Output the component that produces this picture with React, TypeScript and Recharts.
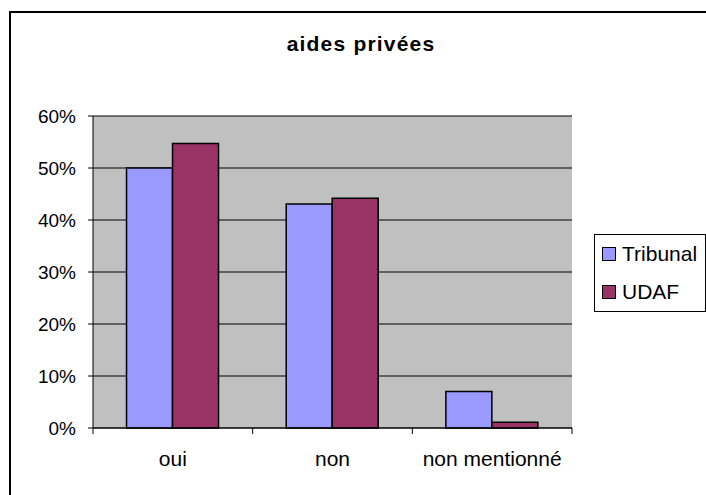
import React from "react";
import { BarChart, Bar, XAxis, YAxis, CartesianGrid, Legend } from "recharts";

const categories = ["oui", "non", "non mentionné"];
const tribunalValues = [0.5, 0.431, 0.07];
const udafValues = [0.547, 0.442, 0.011];
const yTicks = [0, 0.1, 0.2, 0.3, 0.4, 0.5, 0.6];
const seriesNames = ["Tribunal", "UDAF"];
const seriesColors = ["#9999FF", "#993366"];

const FONT = '"Liberation Sans", Arial, Helvetica, sans-serif';
const X_TICK_SIZE = 6;
const X_TICK_MARGIN = 17;

const rows = categories.map((name, i) => ({
  name,
  tribunal: tribunalValues[i],
  udaf: udafValues[i],
}));

function pct(v: number): string {
  return `${Math.round(v * 100)}%`;
}

// Excel puts the category tick marks between the groups, not under them
function CategoryTick(props: any) {
  const { x, y, payload, index, visibleTicksCount } = props;
  const half = payload?.offset ?? 0;
  const axisY = y - X_TICK_SIZE - X_TICK_MARGIN;
  const last = index === visibleTicksCount - 1;
  return (
    <g>
      <line x1={x - half} x2={x - half} y1={axisY} y2={axisY + X_TICK_SIZE} stroke="#000" />
      {last && <line x1={x + half} x2={x + half} y1={axisY} y2={axisY + X_TICK_SIZE} stroke="#000" />}
      <text x={x} y={y} dy="0.71em" textAnchor="middle" fill="#000" fontSize={21} fontFamily={FONT}>
        {payload.value}
      </text>
    </g>
  );
}

function LegendBox() {
  return (
    <div
      style={{
        boxSizing: "border-box",
        width: 112,
        height: 78,
        border: "1px solid #000",
        background: "#fff",
        fontFamily: FONT,
        fontSize: 21,
        color: "#000",
        paddingTop: 9,
      }}
    >
      {seriesNames.map((s, i) => (
        <div key={s} style={{ display: "flex", alignItems: "center", height: 20, marginBottom: i === 0 ? 18 : 0 }}>
          <span
            style={{
              display: "inline-block",
              boxSizing: "border-box",
              width: 14,
              height: 14,
              marginLeft: 7,
              marginRight: 6,
              background: seriesColors[i],
              border: "1.5px solid #000",
            }}
          />
          <span>{s}</span>
        </div>
      ))}
    </div>
  );
}

export default function App() {
  return (
    <div style={{ position: "fixed", left: 0, top: 0, width: 706, height: 495, background: "#fff", overflow: "hidden" }}>
      <div
        style={{
          position: "absolute",
          left: 9,
          top: 11,
          width: 720,
          height: 520,
          borderLeft: "2px solid #000",
          borderTop: "2px solid #000",
        }}
      />
      <div
        style={{
          position: "absolute",
          left: 0,
          width: 722,
          top: 32,
          textAlign: "center",
          fontFamily: FONT,
          fontWeight: "bold",
          fontSize: 21,
          letterSpacing: 1.2,
          color: "#000",
        }}
      >
        aides privées
      </div>
      <div style={{ position: "absolute", left: 0, top: 0 }}>
        <BarChart
          width={706}
          height={495}
          data={rows}
          margin={{ top: 116, right: 134, bottom: 0, left: 0 }}
          barCategoryGap="21%"
          barGap={0}
        >
          <CartesianGrid horizontal vertical={false} stroke="#000" fill="#C0C0C0" fillOpacity={1} />
          <XAxis
            dataKey="name"
            height={67}
            tickLine={false}
            axisLine={{ stroke: "#000" }}
            tickSize={X_TICK_SIZE}
            tickMargin={X_TICK_MARGIN}
            tick={<CategoryTick />}
            interval={0}
          />
          <YAxis
            width={93}
            domain={[0, 0.6]}
            ticks={yTicks}
            tickFormatter={pct}
            axisLine={{ stroke: "#000" }}
            tickLine={{ stroke: "#000" }}
            tickSize={5}
            tickMargin={12}
            tick={{ fill: "#000", fontSize: 19, fontFamily: FONT }}
          />
          <YAxis
            yAxisId="edge"
            orientation="right"
            width={0}
            domain={[0, 0.6]}
            tick={false}
            tickLine={false}
            axisLine={{ stroke: "#808080", strokeWidth: 1.5 }}
          />
          <Legend
            layout="vertical"
            align="center"
            verticalAlign="middle"
            wrapperStyle={{ left: 594, top: 234, width: 112, height: 78 }}
            content={() => <LegendBox />}
          />
          <Bar dataKey="tribunal" name={seriesNames[0]} fill={seriesColors[0]} stroke="#000" strokeWidth={1.5} isAnimationActive={false} />
          <Bar dataKey="udaf" name={seriesNames[1]} fill={seriesColors[1]} stroke="#000" strokeWidth={1.5} isAnimationActive={false} />
        </BarChart>
      </div>
    </div>
  );
}
